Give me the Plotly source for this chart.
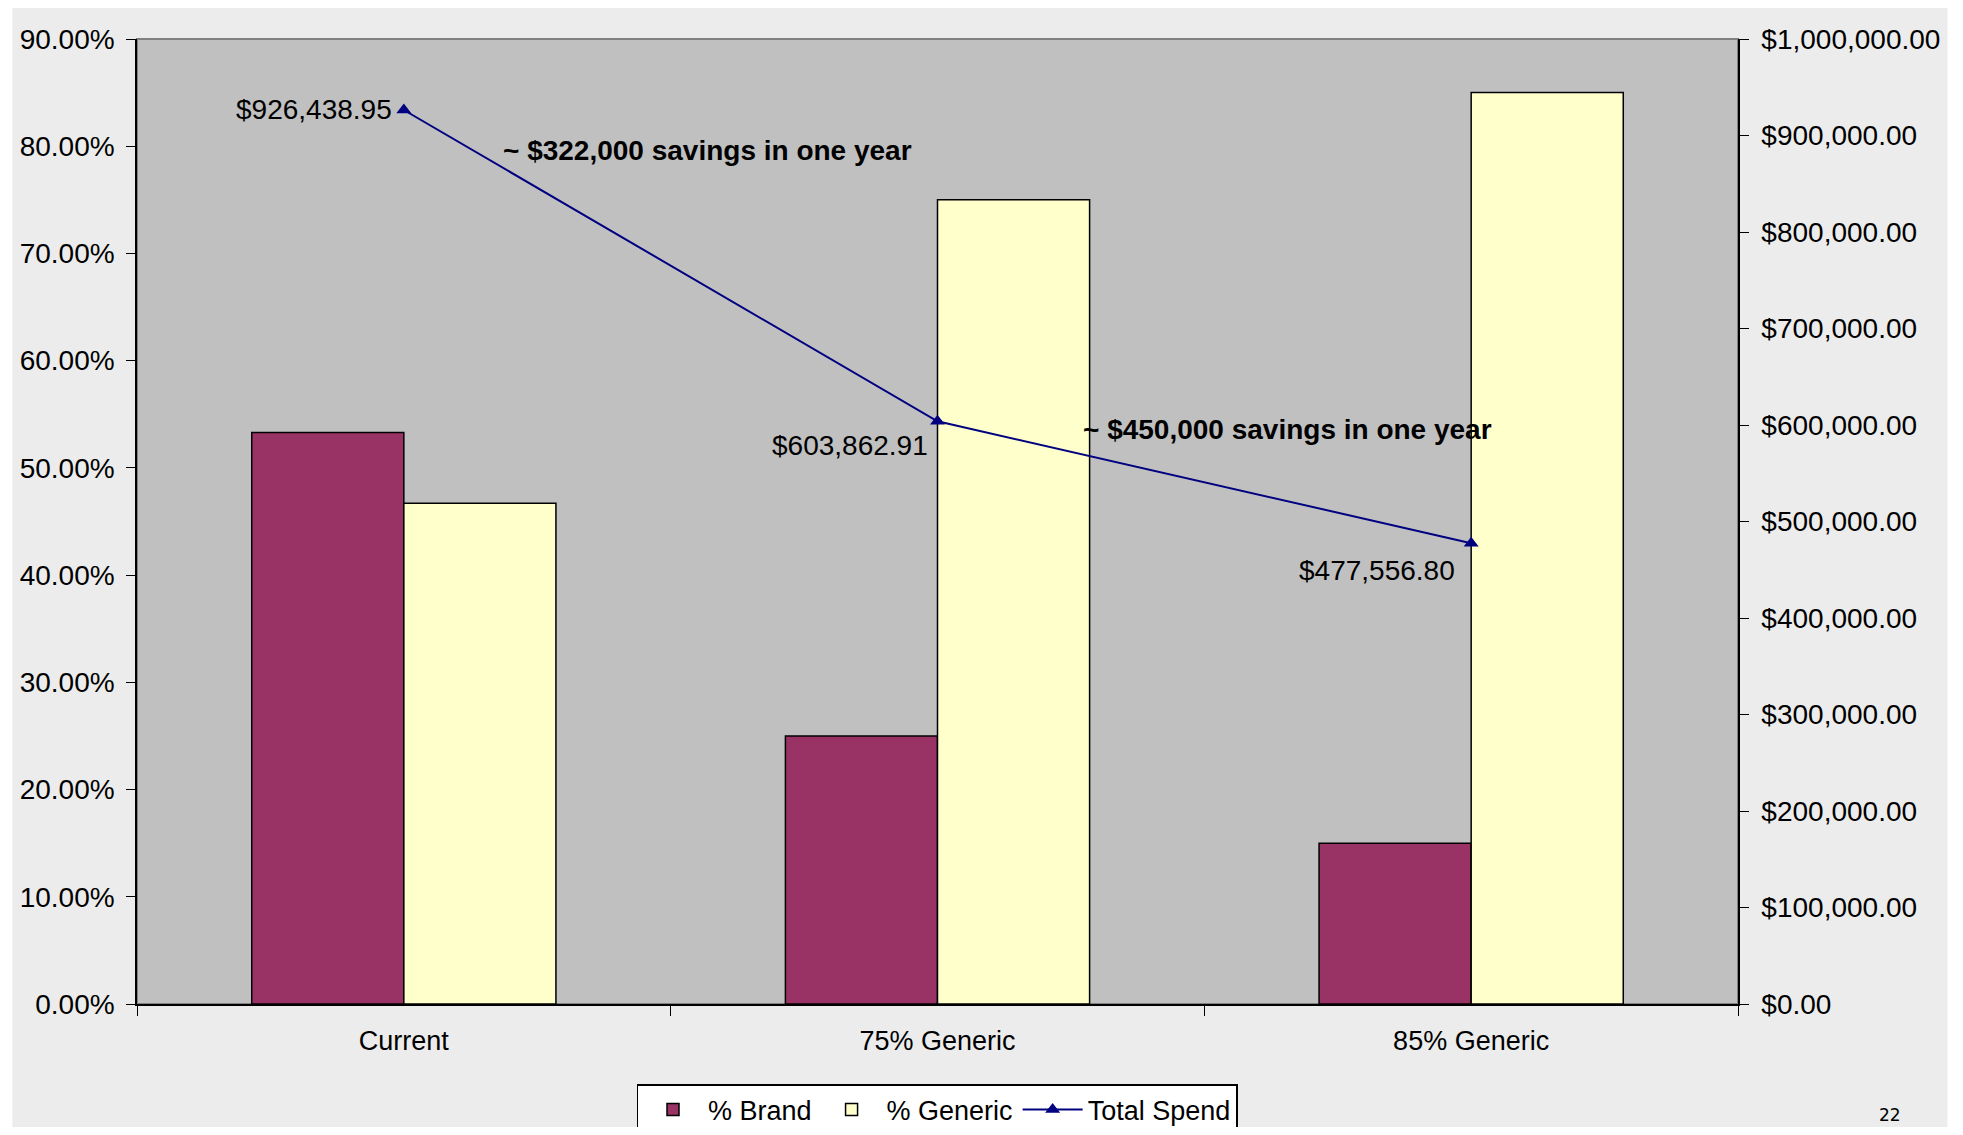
import plotly.graph_objects as go

categories = ["Current", "75% Generic", "85% Generic"]
brand_pct = [0.533, 0.25, 0.15]
generic_pct = [0.467, 0.75, 0.85]
total_spend = [926438.95, 603862.91, 477556.80]
spend_labels = ["$926,438.95", "$603,862.91", "$477,556.80"]
savings_notes = ["~ $322,000 savings in one year", "~ $450,000 savings in one year"]
page_number = "22"

FONT = "Liberation Sans, Arial, sans-serif"
OFF = 8  # default page body margin
W, H = 1963 - 2 * OFF, 1135 - 2 * OFF
# plot area in page pixels: x 133..1738, y 39..1004
L, T = 133 - OFF, 39 - OFF
R = W - (1738 - OFF)
B = H - (1004 - OFF)
PW, PH = W - L - R, H - T - B

def px(X):
    return (X - OFF - L) / PW

def py(Y):
    return (H - B - (Y - OFF)) / PH

fig = go.Figure()
fig.add_trace(go.Bar(
    x=categories, y=brand_pct, name="% Brand",
    marker=dict(color="#993366", line=dict(color="black", width=1.5)),
))
fig.add_trace(go.Bar(
    x=categories, y=generic_pct, name="% Generic",
    marker=dict(color="#FFFFCC", line=dict(color="black", width=1.5)),
))
fig.add_trace(go.Scatter(
    x=categories, y=total_spend, name="Total Spend", yaxis="y2",
    mode="lines+markers",
    line=dict(color="#000080", width=2),
    marker=dict(symbol="triangle-up", size=13, color="#000080"),
))

shapes = [
    dict(type="rect", xref="paper", yref="paper", layer="below",
         x0=px(8), x1=px(1948), y0=py(1127), y1=py(8),
         fillcolor="#ECECEC", line=dict(width=0)),
    dict(type="rect", xref="paper", yref="paper", layer="below",
         x0=0, x1=1, y0=0, y1=1,
         fillcolor="#C0C0C0", line=dict(color="#808080", width=2)),
]

annotations = []
shifts = [(-10, 0), (-8, -24), (-14, -27)]
for c, v, lab, (dx, dy) in zip(categories, total_spend, spend_labels, shifts):
    annotations.append(dict(
        x=c, y=v, xref="x", yref="y2", text=lab, showarrow=False,
        xanchor="right", yanchor="middle", xshift=dx, yshift=dy,
        font=dict(family=FONT, size=28, color="black"),
    ))
note_pos = [(498, 150), (1079, 429)]
for txt, (nx, ny) in zip(savings_notes, note_pos):
    annotations.append(dict(
        x=px(nx), y=py(ny), xref="paper", yref="paper", text="<b>" + txt + "</b>",
        showarrow=False, xanchor="left", yanchor="middle",
        font=dict(family=FONT, size=28, color="black"),
    ))
annotations.append(dict(
    x=px(1890), y=py(1115), xref="paper", yref="paper", text=page_number,
    showarrow=False, xanchor="center", yanchor="middle",
    font=dict(family="DejaVu Sans, sans-serif", size=17, color="black"),
))

fig.update_layout(
    width=W, height=H,
    margin=dict(l=L, r=R, t=T, b=B, pad=0),
    paper_bgcolor="white",
    plot_bgcolor="rgba(0,0,0,0)",
    barmode="group",
    bargap=0.43,
    bargroupgap=0,
    font=dict(family=FONT, size=28, color="black"),
    xaxis=dict(
        type="category", showline=True, linecolor="black", linewidth=1.5,
        ticks="outside", ticklen=10, tickcolor="black", tickson="boundaries",
        showgrid=False, ticklabelstandoff=12,
        tickfont=dict(family=FONT, size=27, color="black"),
    ),
    yaxis=dict(
        range=[0, 0.9], dtick=0.1, tickformat=".2%",
        showline=True, linecolor="black", linewidth=1.5,
        ticks="outside", ticklen=9, tickcolor="black",
        showgrid=False, zeroline=False, ticklabelstandoff=6,
        tickfont=dict(family=FONT, size=28, color="black"),
    ),
    yaxis2=dict(
        range=[0, 1000000], dtick=100000, tickformat="$,.2f",
        overlaying="y", side="right",
        showline=True, linecolor="black", linewidth=1.5,
        ticks="outside", ticklen=9, tickcolor="black",
        showgrid=False, zeroline=False, ticklabelstandoff=7,
        tickfont=dict(family=FONT, size=28, color="black"),
    ),
    legend=dict(
        orientation="h", xref="paper", x=px(935), xanchor="center",
        yref="container", y=1 - (1084 - OFF) / H, yanchor="top",
        bgcolor="white", bordercolor="black", borderwidth=1.5,
        font=dict(family=FONT, size=27, color="black"),
        traceorder="normal", itemwidth=60,
    ),
    shapes=shapes,
    annotations=annotations,
    showlegend=True,
)

fig.write_html("out.html")
